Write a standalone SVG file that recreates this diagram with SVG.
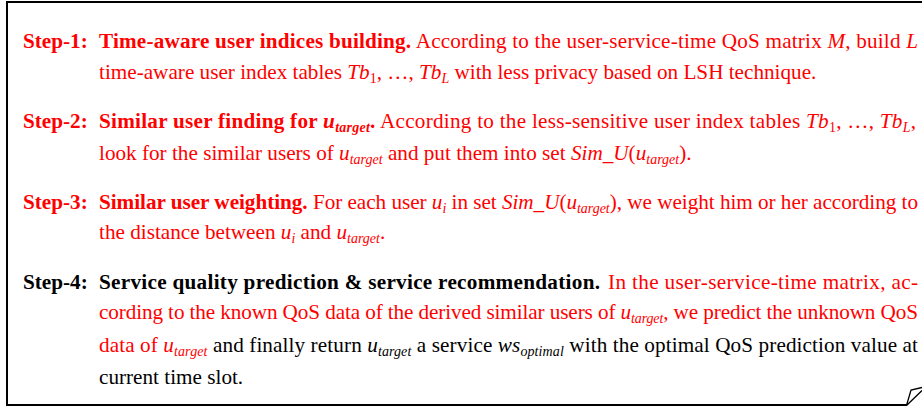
<svg xmlns="http://www.w3.org/2000/svg" width="922" height="408" viewBox="0 0 922 408">
<style>
text{font-family:"Liberation Serif","Times New Roman",serif;font-size:21.2px;fill:#ff0000}
.k{fill:#000}
.b{font-weight:bold}
.i{font-style:italic}
.s{font-size:14px}
.frame{fill:none;stroke:#000;stroke-width:2}
</style>
<rect width="922" height="408" fill="#fff"/>
<g id="frame">
<path class="frame" d="M7,405 V2 H922"/>
<path class="frame" d="M6,405 H907" stroke-width="1.6"/>
<path d="M906.5,405.5 L911,390 L922,387.5 M922,390.5 L906.5,405.5" fill="none" stroke="#000" stroke-width="1.3"/>
</g>
<g id="step1">
<text x="23" y="48" class="b">Step-1:</text>
<text x="99" y="48" textLength="819" lengthAdjust="spacing"><tspan class="b">Time-aware user indices building.</tspan> According to the user-service-time QoS matrix <tspan class="i">M</tspan>, build <tspan class="i">L</tspan></text>
<text x="99" y="79">time-aware user index tables <tspan class="i">Tb</tspan><tspan class="s" dy="4">1</tspan><tspan dy="-4">, …, </tspan><tspan class="i">Tb</tspan><tspan class="s i" dy="4">L</tspan><tspan dy="-4"> with less privacy based on LSH technique.</tspan></text>
</g>
<g id="step2">
<text x="23" y="128" class="b">Step-2:</text>
<text x="99" y="128" textLength="817" lengthAdjust="spacing"><tspan class="b">Similar user finding for </tspan><tspan class="b i">u</tspan><tspan class="b i s" dy="4">target</tspan><tspan class="b" dy="-4">.</tspan> According to the less-sensitive user index tables <tspan class="i">Tb</tspan><tspan class="s" dy="4">1</tspan><tspan dy="-4">, …, </tspan><tspan class="i">Tb</tspan><tspan class="s i" dy="4">L</tspan><tspan dy="-4">,</tspan></text>
<text x="99" y="160">look for the similar users of <tspan class="i">u</tspan><tspan class="i s" dy="4">target</tspan><tspan dy="-4"> and put them into set </tspan><tspan class="i">Sim_U</tspan>(<tspan class="i">u</tspan><tspan class="i s" dy="4">target</tspan><tspan dy="-4">).</tspan></text>
</g>
<g id="step3">
<text x="23" y="209" class="b">Step-3:</text>
<text x="99" y="209" textLength="819" lengthAdjust="spacing"><tspan class="b">Similar user weighting.</tspan> For each user <tspan class="i">u</tspan><tspan class="i s" dy="4">i</tspan><tspan dy="-4"> in set </tspan><tspan class="i">Sim_U</tspan>(<tspan class="i">u</tspan><tspan class="i s" dy="4">target</tspan><tspan dy="-4">), we weight him or her according to</tspan></text>
<text x="99" y="239">the distance between <tspan class="i">u</tspan><tspan class="i s" dy="4">i</tspan><tspan dy="-4"> and </tspan><tspan class="i">u</tspan><tspan class="i s" dy="4">target</tspan><tspan dy="-4">.</tspan></text>
</g>
<g id="step4">
<text x="23" y="289" class="b k">Step-4:</text>
<text x="99" y="289" class="b k" textLength="501" lengthAdjust="spacing">Service quality prediction &amp; service recommendation.</text>
<text x="608" y="289" textLength="310" lengthAdjust="spacing">In the user-service-time matrix, ac-</text>
<text x="99" y="319" textLength="819" lengthAdjust="spacing">cording to the known QoS data of the derived similar users of <tspan class="i">u</tspan><tspan class="i s" dy="4">target</tspan><tspan dy="-4">, we predict the unknown QoS</tspan></text>
<text x="99" y="352" textLength="819" lengthAdjust="spacing">data of <tspan class="i">u</tspan><tspan class="i s" dy="4">target</tspan><tspan class="k" dy="-4"> and finally return </tspan><tspan class="i k">u</tspan><tspan class="i s k" dy="4">target</tspan><tspan class="k" dy="-4"> a service </tspan><tspan class="i k">ws</tspan><tspan class="i s k" dy="4">optimal</tspan><tspan class="k" dy="-4"> with the optimal QoS prediction value at</tspan></text>
<text x="99" y="384" class="k">current time slot.</text>
</g>
</svg>
